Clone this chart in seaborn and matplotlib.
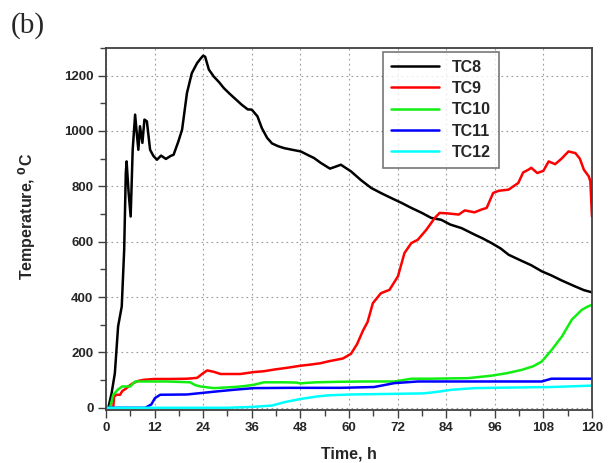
import matplotlib
matplotlib.use("Agg")
import matplotlib.pyplot as plt
from matplotlib.ticker import MultipleLocator
import pandas as pd
import seaborn as sns

# time (h) / temperature (C)
t8 = [0, 0.6, 1.4, 2.2, 3.0, 3.9, 4.5, 4.9, 5.1, 5.6, 6.1, 6.6, 7.2, 7.6, 8.0, 8.4,
      9.0, 9.5, 10.1, 10.9, 11.7, 12.6, 13.6, 14.8, 16.0, 16.7, 17.9, 18.8, 20.0,
      21.2, 22.5, 23.4, 24.0, 24.5, 25.4, 26.6, 28.0, 29.1, 30.5, 32.0, 33.5, 35.0,
      36.0, 37.4, 38.5, 39.8, 41.0, 42.5, 44.0, 46.0, 48.1, 50.0, 51.4, 53.0, 55.3,
      56.5, 58.0, 60.5, 63.0, 65.5, 68.0, 70.4, 73.0, 75.4, 78.0, 80.3, 82.8, 85.0,
      87.8, 91.1, 93.0, 95.2, 97.5, 99.4, 102.0, 105.0, 107.6, 110.0, 112.5, 115.9,
      118.0, 120.0]
T8 = [0, 0, 53, 125, 294, 366, 571, 848, 890, 776, 691, 932, 1059, 993, 932, 1017,
      957, 1041, 1035, 932, 910, 896, 911, 899, 910, 914, 963, 1005, 1137,
      1209, 1245, 1262, 1272, 1268, 1222, 1197, 1175, 1155, 1135, 1115, 1095, 1078,
      1077, 1053, 1010, 975, 955, 945, 938, 932, 926, 912, 902, 885, 864,
      870, 878, 854, 822, 794, 775, 758, 740, 722, 704, 686, 679, 662,
      649, 625, 612, 595, 575, 553, 535, 515, 493, 478, 460, 438,
      425, 417]

t9 = [0, 1.8, 2.0, 2.6, 3.5, 4.0, 5.1, 5.8, 6.7, 8.0, 9.3, 12, 16, 20, 22.5, 24.0,
      25.0, 26.6, 28.3, 30, 33.2, 36.5, 39, 41.5, 45, 48.1, 50.5, 53, 55, 56.4, 58.5,
      60.5, 62.0, 63.5, 64.6, 65.9, 67.9, 70.0, 72.1, 73.7, 75.4, 77.0, 79.1, 81.2,
      82.4, 84.5, 87.1, 88.6, 91.0, 92.7, 94.0, 95.6, 97.0, 99.4, 101.8, 103.0,
      104.3, 105.0, 106.5, 108.0, 109.3, 110.9, 112.5, 114.2, 115.9, 117.0, 118.0,
      119.2, 119.6, 120.0]
T9 = [0, 0, 40, 47, 47, 60, 71, 80, 89, 97, 101, 104, 104, 105, 108, 125,
      135, 130, 122, 122, 122, 129, 132, 138, 145, 152, 156, 161, 168, 172, 178,
      195, 230, 280, 310, 378, 414, 426, 475, 559, 595, 607, 643, 686,
      704, 702, 698, 713, 706, 716, 722, 776, 784, 788, 812, 850,
      860, 867, 848, 856, 890, 880, 900, 926, 920, 900, 860,
      836, 818, 691]

t10 = [0, 1.0, 1.8, 3.1, 3.5, 4.0, 6.0, 7.2, 10, 15, 20.8, 22, 23.3, 26.6, 28, 31.6,
       34, 36.5, 39, 44, 47, 48.1, 49.5, 52, 58, 64, 71.2, 73, 75.4, 80, 89.4, 95.2,
       99, 102.7, 105.5, 107.6, 110.1, 112.6, 115, 117.5, 119, 120]
T10 = [0, 0, 47, 68, 71, 77, 77, 95, 95, 95, 92, 82, 77, 71, 72, 75,
       78, 83, 92, 92, 91, 88, 90, 92, 94, 95, 95, 99, 105, 105, 107, 116,
       125, 137, 150, 167, 210, 258, 318, 354, 366, 372]

t11 = [0, 9.7, 11.2, 12.1, 13.4, 20, 23.3, 28, 31.6, 36.5, 45, 58, 66.2, 71.2, 77,
       90, 107.6, 110, 120]
T11 = [0, 0, 12, 35, 47, 48, 53, 60, 65, 71, 72, 72, 75, 89, 95, 95, 95, 105, 105]

t12 = [0, 30, 36, 41, 44, 48.1, 52.2, 55, 60.5, 70, 78.5, 82, 85.3, 91, 100, 110, 120]
T12 = [0, 0, 3, 8, 20, 32, 41, 45, 48, 50, 52, 58, 65, 71, 73, 75, 80]

names = ["TC8", "TC9", "TC10", "TC11", "TC12"]
colors = ["black", "#ff0000", "#11ee11", "#0000ff", "#00ffff"]

frames = []
for name, t, T in zip(names, [t8, t9, t10, t11, t12], [T8, T9, T10, T11, T12]):
    frames.append(pd.DataFrame({"time": t, "temp": T, "sensor": name}))
df = pd.concat(frames, ignore_index=True)

sns.set_style("ticks")
plt.rcParams["font.family"] = ["Liberation Sans", "DejaVu Sans"]

fig = plt.figure(figsize=(6.16, 4.63), dpi=100)
ax = fig.add_axes([0.172, 0.1145, 0.789, 0.782])

sns.lineplot(data=df, x="time", y="temp", hue="sensor", hue_order=names,
             palette=dict(zip(names, colors)), estimator=None, sort=False,
             linewidth=1.8, ax=ax)

ax.set_xlim(0, 120)
ax.set_ylim(-8, 1300)
ax.xaxis.set_major_locator(MultipleLocator(12))
ax.xaxis.set_minor_locator(MultipleLocator(6))
ax.set_yticks(range(0, 1201, 200))
ax.yaxis.set_minor_locator(MultipleLocator(100))
ax.grid(True, which="major", linestyle=(0, (1.5, 3)), color="#999999", linewidth=0.8)
ax.tick_params(which="both", direction="out", color="#404040")
ax.tick_params(which="major", length=6, width=1, pad=3)
ax.tick_params(which="minor", length=4, width=1)
for lab in ax.get_xticklabels() + ax.get_yticklabels():
    lab.set_fontweight("bold")
    lab.set_fontsize(9.5)
for sp in ax.spines.values():
    sp.set_visible(True)
    sp.set_color("#404040")
    sp.set_linewidth(1.3)

ax.set_xlabel("Time, h", fontsize=11.5, fontweight="bold", labelpad=9)
ax.set_ylabel("Temperature, $^{\\mathbf{0}}$C", fontsize=11.5, fontweight="bold")
ax.yaxis.set_label_coords(-0.14, 0.535)

leg = ax.legend(loc="upper left", bbox_to_anchor=(0.57, 0.99), borderaxespad=0,
                frameon=True, fancybox=False, edgecolor="#555555",
                handlelength=3.0, prop={"weight": "bold", "size": 11.5},
                labelspacing=0.4, borderpad=0.5)
leg.get_frame().set_linewidth(1.2)
for line in leg.get_lines():
    line.set_linewidth(1.8)

fig.text(0.018, 0.975, "(b)", fontsize=21, family="Liberation Serif",
         va="top", ha="left")

fig.savefig("out.png", dpi=100)
